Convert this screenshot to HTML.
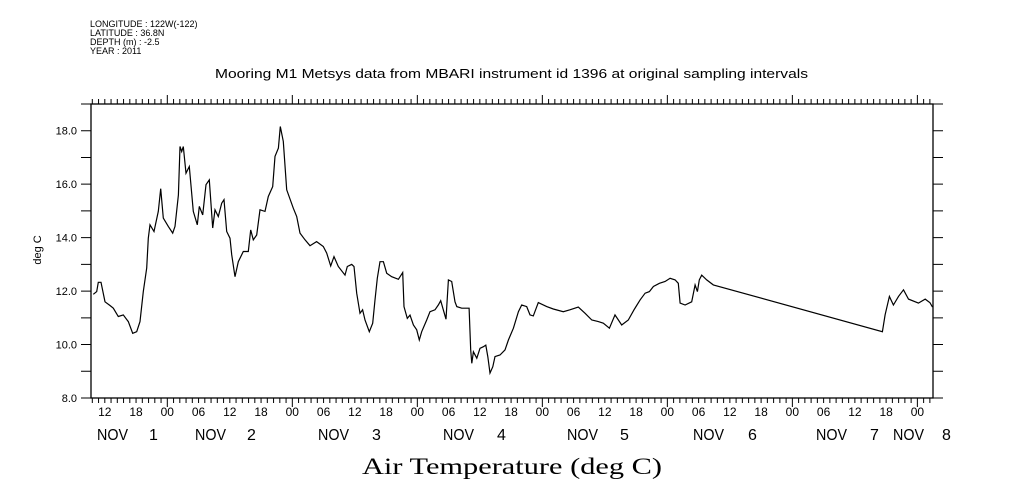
<!DOCTYPE html>
<html><head><meta charset="utf-8"><style>
body{margin:0;background:#fff;}
svg{display:block;font-family:"Liberation Sans",sans-serif;}
</style></head><body>
<svg id="c" width="1009" height="504" xmlns="http://www.w3.org/2000/svg">
<g font-size="9" fill="#000">
<text x="90" y="27">LONGITUDE : 122W(-122)</text>
<text x="90" y="36">LATITUDE : 36.8N</text>
<text x="90" y="45">DEPTH (m) : -2.5</text>
<text x="90" y="54">YEAR : 2011</text>
</g>
<text x="215" y="78" font-size="12.5" textLength="593" lengthAdjust="spacingAndGlyphs">Mooring M1 Metsys data from MBARI instrument id 1396 at original sampling intervals</text>
<text transform="translate(41,250) rotate(-90)" font-size="11" text-anchor="middle">deg C</text>
<text x="362" y="474" font-size="23" font-family="Liberation Serif,serif" textLength="300" lengthAdjust="spacingAndGlyphs">Air Temperature (deg C)</text>
<g id="axes"></g>
<g id="plot"></g>
</svg>
<script>
const hours=[9.79,10.44,10.75,11.27,12.04,13.0,13.63,14.59,15.55,16.51,17.36,18.12,18.76,19.39,20.04,20.35,20.68,21.45,22.27,22.73,23.23,24.19,25.04,25.48,26.12,26.44,26.76,27.07,27.59,28.23,28.99,29.76,30.15,30.8,31.43,32.07,32.72,33.16,33.79,34.44,34.88,35.4,36.04,36.36,37.0,37.63,38.59,39.55,40.01,40.51,41.16,41.8,42.76,43.39,44.24,44.68,45.32,45.7,46.27,46.93,48.19,48.84,49.47,50.43,51.39,52.67,53.95,54.6,55.37,56.0,56.83,58.12,58.56,59.4,59.85,60.36,61.0,61.5,61.96,62.78,63.44,63.88,64.32,64.84,65.48,66.12,67.08,68.36,69.2,69.45,70.08,70.6,71.24,71.88,72.38,72.84,73.8,74.44,75.4,76.03,76.49,76.99,77.51,77.96,78.6,79.24,79.57,80.52,81.93,82.25,82.45,82.76,83.41,84.04,84.68,85.14,85.52,85.96,86.48,86.92,87.88,88.84,89.48,90.44,91.4,92.04,93.0,93.64,94.27,95.23,96.84,98.11,100.03,101.3,102.9,104.2,105.5,106.75,107.71,108.87,109.95,111.24,112.5,113.6,114.76,115.72,116.55,117.32,118.47,119.57,120.53,121.49,122.11,122.45,123.4,124.68,125.32,125.77,126.14,126.6,127.56,128.83,161.29,161.8,162.63,163.4,164.37,165.33,166.29,168.2,169.5,170.4,170.9];
const temps=[11.88,11.98,12.33,12.33,11.6,11.46,11.36,11.05,11.11,10.86,10.42,10.48,10.86,11.98,12.86,13.98,14.48,14.23,14.98,15.83,14.73,14.42,14.17,14.42,15.6,17.41,17.22,17.41,16.41,16.66,14.98,14.48,15.17,14.85,15.98,16.16,14.36,15.04,14.79,15.29,15.42,14.23,13.98,13.36,12.54,13.1,13.48,13.48,14.29,13.92,14.1,15.04,14.98,15.54,15.91,17.04,17.35,18.16,17.6,15.79,15.1,14.79,14.17,13.92,13.7,13.85,13.67,13.42,12.94,13.29,12.92,12.6,12.92,13.0,12.92,11.92,11.17,11.3,10.92,10.48,10.8,11.67,12.48,13.1,13.1,12.67,12.54,12.44,12.69,11.42,10.98,11.1,10.73,10.55,10.17,10.48,10.92,11.23,11.3,11.48,11.64,11.3,10.95,12.42,12.36,11.6,11.42,11.36,11.36,9.8,9.3,9.73,9.49,9.86,9.92,9.98,9.55,8.93,9.17,9.55,9.61,9.8,10.17,10.61,11.23,11.48,11.42,11.11,11.07,11.57,11.42,11.33,11.23,11.3,11.4,11.17,10.92,10.86,10.8,10.61,11.11,10.73,10.92,11.3,11.67,11.92,11.98,12.17,12.29,12.36,12.48,12.42,12.29,11.55,11.48,11.6,12.23,11.98,12.42,12.6,12.42,12.23,10.48,11.11,11.8,11.48,11.8,12.05,11.7,11.55,11.7,11.57,11.4];
const yTicks=[8,10,12,14,16,18];
const hourLabels=["00","06","12","18"];
const dayLabels=["NOV 1","NOV 2","NOV 3","NOV 4","NOV 5","NOV 6","NOV 7","NOV 8"];
const dayLabelX=[97,195,318,443,567,693,816,893];
const dayNumX=[149,247,372,497,620,748,870,942];

const L=91,R=933,T=104,B=398,H0=9.35,H1=171.0,V0=8,V1=19;
const sx=h=>L+(h-H0)/(H1-H0)*(R-L);
const sy=v=>B-(v-V0)/(V1-V0)*(B-T);
const NS="http://www.w3.org/2000/svg";
function mk(tag,attrs,parent){const e=document.createElementNS(NS,tag);for(const k in attrs)e.setAttribute(k,attrs[k]);parent.appendChild(e);return e;}
const ax=document.getElementById('axes'),pl=document.getElementById('plot');
const frame=mk('rect',{x:L,y:T,width:R-L,height:B-T,fill:'none',stroke:'#000','stroke-width':1.3},ax);


let d='';
for(let v=V0;v<=V1;v++){const y=sy(v);d+=`M${L-10},${y}H${L}M${R},${y}H${R+10}`;}
for(let h=Math.ceil(H0/1.2)*1.2;h<=H1;h+=1.2){const x=sx(h);d+=`M${x},${T}V${T-5}M${x},${B}V${B+5}`;}
for(let h=24;h<=H1;h+=24){const x=sx(h);d+=`M${x},${T}V${T-9}M${x},${B}V${B+9}`;}
const tk=mk('path',{d:d,stroke:'#000','stroke-width':1,fill:'none'},ax);


yTicks.forEach(v=>{const t=mk('text',{x:L-14,y:sy(v)+4,'font-size':11,'text-anchor':'end'},ax);t.textContent=v.toFixed(1);

});
for(let h=12;h<=H1;h+=6){const t=mk('text',{x:sx(h),y:416,'font-size':12,'text-anchor':'middle'},ax);t.textContent=hourLabels[(h%24)/6];

}
dayLabels.forEach((s,i)=>{const p=s.split(' ');
const a=mk('text',{x:dayLabelX[i],y:440,'font-size':16,textLength:31,lengthAdjust:'spacingAndGlyphs'},ax);a.textContent=p[0];


const b=mk('text',{x:dayNumX[i],y:440,'font-size':16},ax);b.textContent=p[1];

});
const pts=hours.map((h,i)=>sx(h).toFixed(1)+','+sy(temps[i]).toFixed(1)).join(' ');
const ln=mk('polyline',{points:pts,fill:'none',stroke:'#000','stroke-width':1.2},pl);


</script>
</body></html>
